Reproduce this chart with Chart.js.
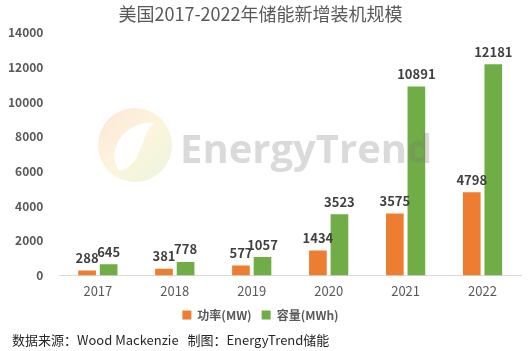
<!DOCTYPE html>
<html>
<head>
<meta charset="utf-8">
<script src="https://cdn.jsdelivr.net/npm/chart.js@4/dist/chart.umd.min.js"></script>
<style>
    html, body { margin: 0; padding: 0; background: #fff; }
    #wrap { width: 529px; height: 351px; }
</style>
</head>
<body>
<div id="wrap"><canvas id="chart" width="529" height="351"></canvas></div>
<script>
// Data
const years = ['2017', '2018', '2019', '2020', '2021', '2022'];
const powerMW = [288, 381, 577, 1434, 3575, 4798];
const capacityMWh = [645, 778, 1057, 3523, 10891, 12181];
const yTicks = [0, 2000, 4000, 6000, 8000, 10000, 12000, 14000];

const FONT = '"Microsoft YaHei", "Noto Sans CJK SC", "Noto Sans", sans-serif';
const ORANGE = '#ED7D31';
const GREEN = '#70AD47';

// Faint logo watermark, laid over the bars
const watermark = {
    id: 'watermark',
    afterDatasetsDraw(chart) {
        const ctx = chart.ctx;
        ctx.save();
        // round logo with a white leaf cut
        const cx = 135, cy = 145, r = 37;
        const grad = ctx.createLinearGradient(cx - r, cy - r, cx + r, cy + r);
        grad.addColorStop(0, 'rgba(250,195,165,0.42)');
        grad.addColorStop(0.5, 'rgba(250,230,170,0.42)');
        grad.addColorStop(1, 'rgba(205,230,180,0.42)');
        ctx.fillStyle = grad;
        ctx.beginPath();
        ctx.arc(cx, cy, r, 0, Math.PI * 2);
        ctx.fill();
        ctx.fillStyle = '#fff';
        ctx.beginPath();
        ctx.moveTo(cx - 16, cy + 26);
        ctx.bezierCurveTo(cx - 30, cy + 5, cx - 10, cy - 25, cx + 20, cy - 22);
        ctx.bezierCurveTo(cx + 5, cy - 15, cx + 10, cy + 20, cx - 16, cy + 26);
        ctx.fill();
        // logo text
        ctx.fillStyle = 'rgba(120,120,120,0.27)';
        ctx.font = 'bold 40px "Open Sans", sans-serif';
        ctx.textBaseline = 'alphabetic';
        ctx.fillText('EnergyTrend', 180, 163);
        ctx.restore();
    }
};

// Value labels above each bar
const barLabels = {
    id: 'barLabels',
    afterDraw(chart) {
        const ctx = chart.ctx;
        ctx.save();
        ctx.font = 'bold 13px ' + FONT;
        ctx.fillStyle = '#404040';
        ctx.textAlign = 'center';
        ctx.textBaseline = 'bottom';
        chart.data.datasets.forEach((ds, i) => {
            chart.getDatasetMeta(i).data.forEach((bar, j) => {
                ctx.fillText(ds.data[j], bar.x, bar.y - 6);
            });
        });
        ctx.restore();
    }
};

// Source line at the bottom
const footer = {
    id: 'footer',
    afterDraw(chart) {
        const ctx = chart.ctx;
        ctx.save();
        ctx.font = '13px ' + FONT;
        ctx.fillStyle = '#262626';
        ctx.textBaseline = 'middle';
        ctx.fillText('数据来源：Wood Mackenzie   制图：EnergyTrend储能', 12, 340);
        ctx.restore();
    }
};

new Chart(document.getElementById('chart'), {
    type: 'bar',
    data: {
        labels: years,
        datasets: [
            { label: '功率(MW)', data: powerMW, backgroundColor: ORANGE },
            { label: '容量(MWh)', data: capacityMWh, backgroundColor: GREEN }
        ]
    },
    options: {
        responsive: false,
        animation: false,
        datasets: {
            bar: { categoryPercentage: 0.56, barPercentage: 0.82 }
        },
        layout: { padding: { left: 0, right: 8, top: 0, bottom: 20 } },
        plugins: {
            title: {
                display: true,
                text: '美国2017-2022年储能新增装机规模',
                color: '#595959',
                font: { family: FONT, size: 18, weight: 'normal' },
                padding: { top: 3, bottom: 8 }
            },
            legend: {
                position: 'bottom',
                labels: {
                    boxWidth: 9,
                    boxHeight: 9,
                    color: '#595959',
                    font: { family: FONT, size: 12, weight: 'bold' },
                    padding: 10
                }
            },
            tooltip: { enabled: false }
        },
        scales: {
            x: {
                grid: { display: false },
                border: { color: '#d9d9d9' },
                ticks: { color: '#595959', padding: 0, font: { family: FONT, size: 13 } }
            },
            y: {
                min: 0,
                max: 14000,
                afterBuildTicks(axis) {
                    axis.ticks = yTicks.map(v => ({ value: v }));
                },
                grid: { display: false },
                border: { display: false },
                ticks: {
                    color: '#595959',
                    padding: 8,
                    font: { family: FONT, size: 12, weight: 'bold' },
                    callback: v => String(v)
                }
            }
        }
    },
    plugins: [watermark, barLabels, footer]
});
</script>
</body>
</html>
